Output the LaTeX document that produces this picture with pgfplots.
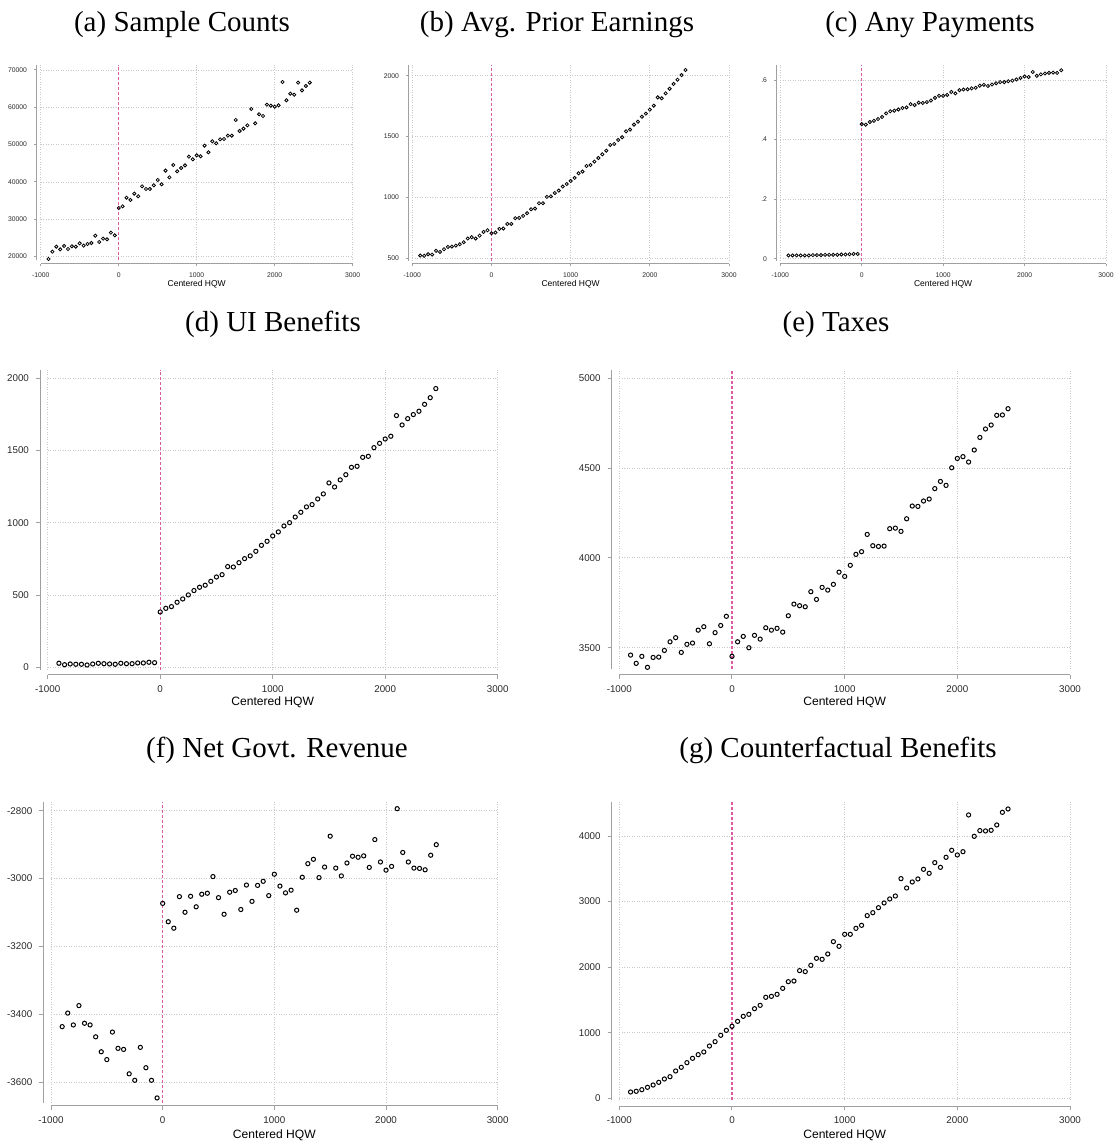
\documentclass[border=0pt]{standalone}
\usepackage{fontspec}
\setmainfont{Liberation Sans}
\newfontfamily\seriffont{Liberation Serif}
\usepackage{pgfplots}
\usepackage{pgfplotstable}
\pgfplotsset{compat=1.18}
\definecolor{axisgray}{RGB}{160,160,160}
\definecolor{gridgray}{RGB}{200,200,200}
\definecolor{zeroline}{RGB}{220,90,160}
\definecolor{ticktext}{RGB}{40,40,40}

\pgfplotstableread{
x a b c d e f g
-900 19375 522 0.011 28 3459 -3436 97
-850 21340 520 0.011 18 3413 -3396 107
-800 22680 533 0.011 23 3452 -3431 132
-750 21960 530 0.011 21 3391 -3374 168
-700 22860 561 0.011 21 3446 -3426 203
-650 22050 552 0.011 16 3448 -3431 244
-600 22770 574 0.012 23 3485 -3466 295
-550 22680 593 0.012 28 3533 -3510 330
-500 23570 596 0.012 25 3556 -3533 417
-450 22950 604 0.013 23 3474 -3452 473
-400 23390 615 0.013 21 3519 -3500 544
-350 23660 632 0.013 28 3526 -3503 610
-300 25620 662 0.013 25 3598 -3575 666
-250 23930 673 0.014 25 3617 -3594 707
-200 24820 662 0.014 30 3522 -3497 798
-150 24640 686 0.015 30 3584 -3557 864
-100 26430 716 0.016 35 3624 -3594 961
-50 25710 730 0.016 32 3675 -3646 1037
0 33040 705 0.452 383 3452 -3073 1098
50 33480 711 0.450 408 3533 -3127 1174
100 35800 741 0.459 420 3563 -3146 1250
150 35180 744 0.463 450 3500 -3053 1281
200 36880 782 0.469 473 3569 -3099 1367
250 36160 782 0.476 501 3548 -3052 1418
300 38840 829 0.488 531 3611 -3083 1540
350 38130 831 0.495 554 3598 -3046 1555
400 38130 848 0.497 568 3608 -3043 1586
450 39110 870 0.501 595 3587 -2994 1677
500 40540 902 0.506 625 3678 -3056 1779
550 39380 908 0.508 641 3743 -3105 1789
600 43040 952 0.519 697 3734 -3040 1947
650 41250 952 0.516 694 3728 -3035 1932
700 44550 1004 0.524 724 3812 -3091 2028
750 42860 1009 0.523 752 3769 -3019 2135
800 43750 1036 0.526 771 3836 -3067 2120
850 44460 1056 0.531 803 3821 -3020 2201
900 46790 1089 0.540 844 3853 -3008 2389
950 46070 1110 0.547 872 3921 -3050 2318
1000 47140 1135 0.547 909 3897 -2987 2501
1050 46880 1160 0.550 937 3959 -3022 2501
1100 49730 1198 0.560 978 4020 -3042 2592
1150 47950 1212 0.555 1001 4035 -3034 2638
1200 50890 1258 0.566 1040 4131 -3093 2786
1250 50360 1266 0.568 1073 4068 -2996 2831
1300 51430 1294 0.569 1110 4064 -2956 2907
1350 51520 1324 0.572 1126 4066 -2943 2979
1400 52410 1354 0.574 1165 4163 -2997 3040
1450 52410 1384 0.581 1200 4166 -2966 3085
1500 56610 1431 0.584 1276 4148 -2875 3350
1550 53660 1439 0.580 1248 4218 -2969 3207
1600 54290 1472 0.585 1297 4289 -2992 3299
1650 55180 1494 0.589 1333 4287 -2954 3345
1700 59550 1543 0.593 1384 4317 -2934 3492
1750 55710 1557 0.593 1391 4328 -2937 3431
1800 58130 1598 0.596 1453 4386 -2933 3594
1850 57680 1622 0.598 1460 4426 -2967 3522
1900 60710 1663 0.602 1520 4404 -2885 3675
1950 60450 1688 0.607 1550 4502 -2951 3782
2000 60180 1721 0.612 1580 4554 -2975 3711
2050 60540 1754 0.610 1599 4564 -2964 3761
2100 66790 1822 0.627 1742 4534 -2794 4321
2150 61880 1814 0.614 1677 4601 -2923 3995
2200 63660 1855 0.619 1721 4671 -2951 4082
2250 63390 1893 0.622 1749 4718 -2969 4077
2300 66610 1932 0.624 1772 4740 -2970 4087
2350 64550 1967 0.625 1820 4794 -2974 4168
2400 65710 2005 0.624 1866 4796 -2931 4361
2450 66610 2047 0.633 1929 4831 -2900 4412
}\data

\pgfplotsset{
  stata/.style={
    scale only axis, anchor=south west,
    xmin=-1000, xmax=3000,
    axis x line*=bottom, axis y line*=left,
    axis line style={draw=axisgray, line width=0.5pt, -},
    xtick={-1000,1000,2000,3000},
    xticklabels={-1000,1000,2000,3000},
    extra x ticks={0}, extra x tick labels={0},
    extra x tick style={grid=none},
    scaled y ticks=false, scaled x ticks=false,
    tick align=outside,
    major tick style={draw=axisgray, line width=0.5pt},
    xmajorgrids, ymajorgrids,
    major grid style={draw=gridgray, line width=0.45pt, dash pattern=on 0.45pt off 0.8pt},
    tick label style={text=ticktext},
    xlabel={Centered HQW},
    clip=false,
  },
  toprow/.style={stata,
    major tick length=1pt,
    tick label style={font=\fontsize{3.4pt}{4pt}\selectfont},
    xlabel style={font=\fontsize{4.25pt}{5pt}\selectfont, at={(axis description cs:0.5,0)}, anchor=center, yshift=-#1},
  },
  botrow/.style={stata,
    major tick length=2pt,
    tick label style={font=\fontsize{4.9pt}{6pt}\selectfont},
    xlabel style={font=\fontsize{6.05pt}{7pt}\selectfont, at={(axis description cs:0.5,0)}, anchor=center, yshift=-#1},
  },
  smallmarks/.style={only marks, mark=o, mark size=0.8pt, mark options={draw=black, line width=0.4pt}},
  bigmarks/.style={only marks, mark=o, mark size=1.05pt, mark options={draw=black, line width=0.5pt}},
  zl/.style={draw=zeroline, line width=0.6pt, dash pattern=on 1.5pt off 1pt},
}

\begin{document}
\begin{tikzpicture}
\useasboundingbox (0,0) rectangle (559.5pt,572.5pt);
\tikzset{ttl/.style={font=\seriffont\fontsize{14.5pt}{17pt}\selectfont, anchor=base}}

% (a)
\begin{axis}[toprow=11.8pt, at={(20.35pt,442.3pt)}, width=156pt, height=97.7pt,
  ymin=19000, ymax=71340,
  axis x line shift=1.8pt, axis y line shift=2.35pt,
  ytick={20000,30000,40000,50000,60000,70000},
  yticklabels={20000,30000,40000,50000,60000,70000}]
\addplot[zl] coordinates {(0,19000) (0,71340)};
\addplot[smallmarks] table[x=x,y=a]{\data};
\end{axis}

% (b)
\begin{axis}[toprow=11.65pt, at={(206.15pt,442.15pt)}, width=158.35pt, height=97.85pt,
  ymin=480, ymax=2088,
  axis x line shift=1.65pt, axis y line shift=2.15pt,
  ytick={500,1000,1500,2000},
  yticklabels={500,1000,1500,2000}]
\addplot[zl] coordinates {(0,480) (0,2088)};
\addplot[smallmarks] table[x=x,y=b]{\data};
\end{axis}

% (c)
\begin{axis}[toprow=11.6pt, at={(390.15pt,442.1pt)}, width=162.85pt, height=97.9pt,
  ymin=-0.007, ymax=0.6505,
  axis x line shift=1.6pt, axis y line shift=2.15pt,
  ytick={0,0.2,0.4,0.6},
  yticklabels={0,.2,.4,.6}]
\addplot[zl] coordinates {(0,-0.007) (0,0.6505)};
\addplot[smallmarks] table[x=x,y=c]{\data};
\end{axis}

% (d)
\begin{axis}[botrow=15.9pt, at={(23.85pt,237.4pt)}, width=225pt, height=150.1pt,
  ymin=-20, ymax=2057.5,
  axis x line shift=2.4pt, axis y line shift=3.85pt,
  ytick={0,500,1000,1500,2000},
  yticklabels={0,500,1000,1500,2000}]
\addplot[zl] coordinates {(0,-20) (0,2057.5)};
\addplot[bigmarks] table[x=x,y=d]{\data};
\end{axis}

% (e)
\begin{axis}[botrow=16.35pt, at={(309.65pt,237.85pt)}, width=225.35pt, height=149.65pt,
  ymin=3380, ymax=5046.5,
  axis x line shift=2.85pt, axis y line shift=3.8pt,
  ytick={3500,4000,4500,5000},
  yticklabels={3500,4000,4500,5000}]
\addplot[zl] coordinates {(0,3380) (0,5046.5)};
\addplot[bigmarks] table[x=x,y=e]{\data};
\end{axis}

% (f)
\begin{axis}[botrow=16.5pt, at={(25.5pt,21.15pt)}, width=223.35pt, height=150.5pt,
  ymin=-3660, ymax=-2773.4,
  axis x line shift=1.65pt, axis y line shift=3.85pt,
  ytick={-3600,-3400,-3200,-3000,-2800},
  yticklabels={-3600,-3400,-3200,-3000,-2800}]
\addplot[zl] coordinates {(0,-3660) (0,-2773.4)};
\addplot[bigmarks] table[x=x,y=f]{\data};
\end{axis}

% (g)
\begin{axis}[botrow=17.7pt, at={(309.65pt,22.35pt)}, width=225.35pt, height=149.3pt,
  ymin=-30, ymax=4523,
  axis x line shift=2.85pt, axis y line shift=3.8pt,
  ytick={0,1000,2000,3000,4000},
  yticklabels={0,1000,2000,3000,4000}]
\addplot[zl] coordinates {(0,-30) (0,4523)};
\addplot[bigmarks] table[x=x,y=g]{\data};
\end{axis}

\node[ttl] at (91pt,556.65pt) {(a) Sample Counts};
\node[ttl] at (278.5pt,556.65pt) {(b) Avg. Prior Earnings};
\node[ttl] at (465pt,556.65pt) {(c) Any Payments};
\node[ttl] at (136.5pt,406.65pt) {(d) UI Benefits};
\node[ttl] at (418pt,406.65pt) {(e) Taxes};
\node[ttl] at (138.5pt,193.65pt) {(f) Net Govt. Revenue};
\node[ttl] at (419pt,193.65pt) {(g) Counterfactual Benefits};
\end{tikzpicture}
\end{document}
